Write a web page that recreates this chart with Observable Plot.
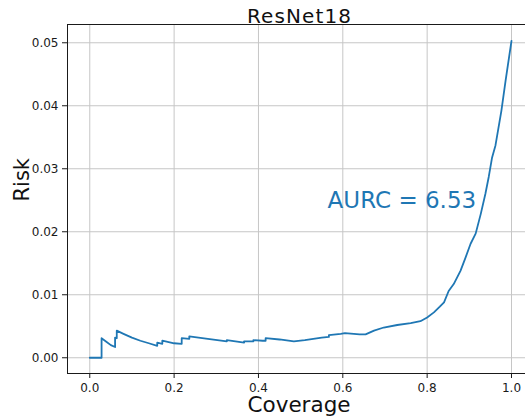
<!DOCTYPE html>
<html>
<head>
<meta charset="utf-8">
<script src="https://cdn.jsdelivr.net/npm/d3@7"></script>
<script src="https://cdn.jsdelivr.net/npm/@observablehq/plot@0.6"></script>
<style>
  html, body { margin: 0; padding: 0; background: #ffffff; }
  #chart { width: 525px; height: 417px; }
</style>
</head>
<body>
<div id="chart"></div>
<script>
// ---- Data ----
const title = "ResNet18";
const xLabel = "Coverage";
const yLabel = "Risk";
const annotation = "AURC = 6.53";

const coverage = [
  0.000, 0.028, 0.028, 0.040, 0.050, 0.060, 0.060, 0.064, 0.064, 0.080,
  0.100, 0.120, 0.140, 0.160, 0.160, 0.172, 0.172, 0.200, 0.218, 0.218,
  0.236, 0.236, 0.280, 0.325, 0.325, 0.366, 0.366, 0.388, 0.388, 0.410,
  0.417, 0.417, 0.450, 0.484, 0.510, 0.530, 0.550, 0.567, 0.567, 0.595,
  0.605, 0.640, 0.654, 0.674, 0.697, 0.729, 0.761, 0.784, 0.800, 0.816,
  0.830, 0.840, 0.851, 0.863, 0.879, 0.891, 0.903, 0.915, 0.927, 0.938,
  0.946, 0.954, 0.962, 0.976, 0.986, 1.000
];
const risk = [
  0.0000, 0.0000, 0.0031, 0.0025, 0.0020, 0.0017, 0.0032, 0.0031, 0.0043, 0.0038,
  0.0032, 0.0027, 0.0023, 0.0019, 0.0024, 0.0022, 0.0027, 0.0023, 0.0022, 0.0031,
  0.0030, 0.0034, 0.0030, 0.0026, 0.0028, 0.0024, 0.0026, 0.0026, 0.0028, 0.0027,
  0.0027, 0.0031, 0.0029, 0.0026, 0.0028, 0.0030, 0.0032, 0.0033, 0.0036, 0.0038,
  0.0039, 0.0037, 0.0037, 0.0043, 0.0048, 0.0052, 0.0055, 0.0058, 0.0064, 0.0072,
  0.0081, 0.0088, 0.0106, 0.0117, 0.0138, 0.0159, 0.0181, 0.0197, 0.0228, 0.0260,
  0.0287, 0.0318, 0.0337, 0.0392, 0.0440, 0.0503
];

const xTicks = [0.0, 0.2, 0.4, 0.6, 0.8, 1.0];
const yTicks = [0.00, 0.01, 0.02, 0.03, 0.04, 0.05];

// ---- Chart ----
const points = coverage.map((c, i) => ({coverage: c, risk: risk[i]}));
const xDomain = [-0.0528, 1.0332];
const yDomain = [-0.0025, 0.0529];
const blue = "#1f77b4";
const gridColor = "#c6c6c6";

const chart = Plot.plot({
  width: 525,
  height: 417,
  marginLeft: 67,
  marginRight: 0,
  marginTop: 24,
  marginBottom: 44,
  style: {fontFamily: "DejaVu Sans", fontSize: "12px", background: "#ffffff", color: "#1a1a1a"},
  x: {domain: xDomain},
  y: {domain: yDomain},
  marks: [
    Plot.gridX(xTicks, {stroke: gridColor, strokeOpacity: 1, strokeWidth: 1}),
    Plot.gridY(yTicks, {stroke: gridColor, strokeOpacity: 1, strokeWidth: 1}),
    Plot.axisX(xTicks, {tickSize: 5, tickPadding: 5, tickFormat: d3.format(".1f"), label: null, fontSize: 12, stroke: "#1a1a1a"}),
    Plot.axisY(yTicks, {tickSize: 5, tickPadding: 4, tickFormat: d3.format(".2f"), label: null, fontSize: 12, stroke: "#1a1a1a"}),
    Plot.ruleX([xDomain[0]], {stroke: "#1a1a1a", strokeWidth: 1}),
    Plot.ruleY(yDomain, {stroke: "#1a1a1a", strokeWidth: 1}),
    Plot.line(points, {x: "coverage", y: "risk", stroke: blue, strokeWidth: 1.8, curve: "linear"}),
    Plot.text([annotation], {x: 0.564, y: 0.0249, text: d => d, textAnchor: "start", lineAnchor: "middle", fill: blue, fontSize: 23}),
    Plot.text([title], {frameAnchor: "top", text: d => d, lineAnchor: "bottom", dy: -2, dx: 3, fontSize: 20, fill: "#111"}),
    Plot.text([xLabel], {frameAnchor: "bottom", text: d => d, lineAnchor: "bottom", dy: 38.5, dx: 2.5, fontSize: 21.5, fill: "#111"}),
    Plot.text([yLabel], {frameAnchor: "left", text: d => d, rotate: -90, lineAnchor: "bottom", dx: -39, dy: 2.5, fontSize: 21, fill: "#111"})
  ]
});
// wider letter spacing on the title, as in the reference
d3.select(chart).selectAll("text").filter(function () { return this.textContent === title; })
  .attr("letter-spacing", "1.1px");
document.getElementById("chart").appendChild(chart);
</script>
</body>
</html>
